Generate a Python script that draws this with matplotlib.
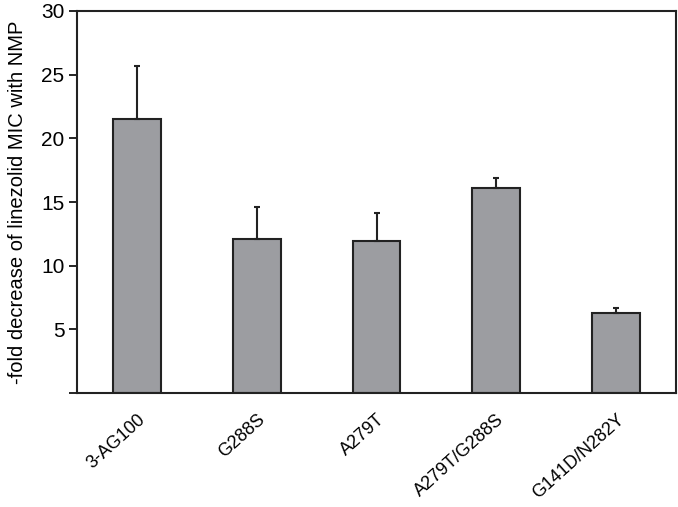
import matplotlib.pyplot as plt

strains = ["3-AG100", "G288S", "A279T", "A279T/G288S", "G141D/N282Y"]
fold_decrease = [21.5, 12.1, 11.95, 16.1, 6.3]
err_upper = [4.2, 2.5, 2.15, 0.8, 0.35]

plt.rcParams['font.family'] = ['Liberation Sans', 'DejaVu Sans']

fig = plt.figure(figsize=(6.78, 5.07), dpi=100)
ax = fig.add_axes([77 / 678, 1 - 393 / 507, (676 - 77) / 678, (393 - 11) / 507])

x = range(len(strains))
ax.bar(x, fold_decrease, width=0.4, color='#9c9da1', edgecolor='#222222', linewidth=1.5,
       yerr=[[0] * len(err_upper), err_upper], ecolor='#222222',
       error_kw=dict(elinewidth=1.5, capsize=2.5, capthick=1.5), zorder=2)

ax.set_xlim(-0.5, 4.5)
ax.set_ylim(0, 30)
ax.set_yticks([0, 5, 10, 15, 20, 25, 30])
ax.set_yticklabels(["", "5", "10", "15", "20", "25", "30"], fontsize=15)
ax.set_xticks(list(x))
ax.set_xticklabels(strains, rotation=42, ha='right', rotation_mode='anchor', fontsize=13)
ax.tick_params(axis='x', length=0, pad=13)
ax.tick_params(axis='y', length=6, width=1.2, direction='out', pad=3)
for s in ax.spines.values():
    s.set_linewidth(1.5)
    s.set_color('#222222')
ax.set_ylabel("-fold decrease of linezolid MIC with NMP", fontsize=14.5, labelpad=10)

fig.savefig("out.png", dpi=100)
